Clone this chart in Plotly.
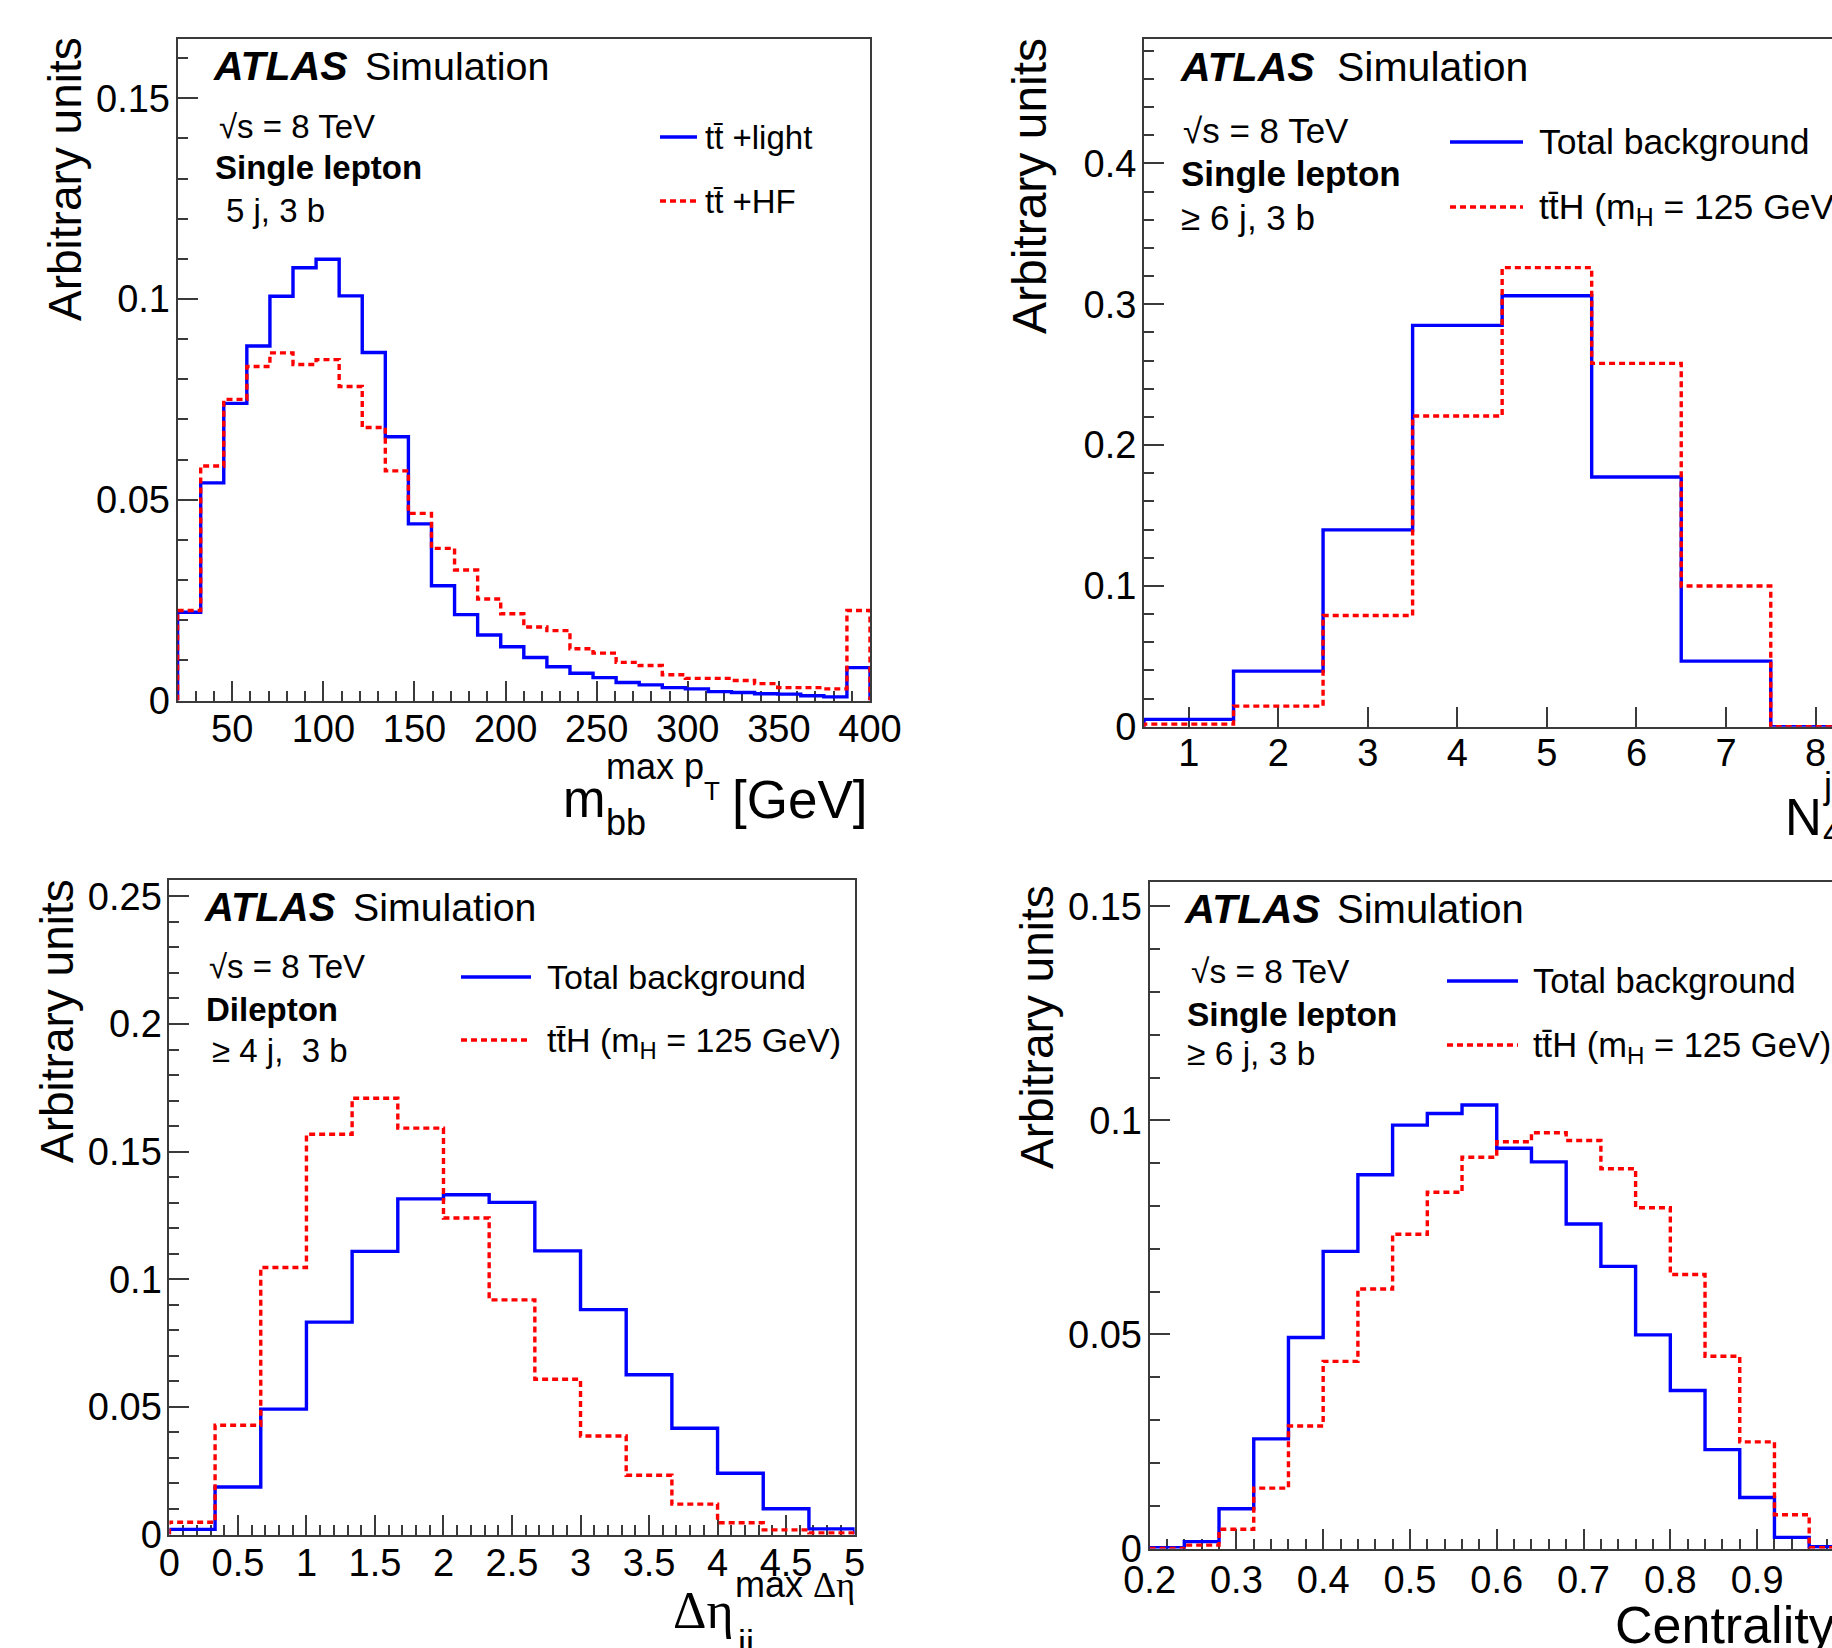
import numpy as np
import plotly.graph_objects as go

W, H = 1832, 1648
BLUE = "#0000ff"
RED = "#ff0000"
FRAME = "#3a3a3a"
SANS = "Liberation Sans"
SERIF = "Liberation Serif"
RED_DASH = "6px,4px"
LW = 3.4

# ---------------- data ----------------
# Panel 1: m_bb^{max pT}, 30 bins 20-400 GeV
mbb_edges = np.linspace(20, 400, 31)
mbb_light = [0.0220, 0.0542, 0.0740, 0.0883, 0.1007, 0.1078, 0.1099, 0.1008, 0.0867, 0.0657,
             0.0440, 0.0286, 0.0214, 0.0163, 0.0134, 0.0107, 0.0084, 0.0068, 0.0057, 0.0045,
             0.0039, 0.0032, 0.0029, 0.0022, 0.0020, 0.0017, 0.0016, 0.0012, 0.0009, 0.0082]
mbb_hf = [0.0224, 0.0584, 0.0750, 0.0832, 0.0866, 0.0837, 0.0849, 0.0782, 0.0680, 0.0572,
          0.0466, 0.0379, 0.0325, 0.0253, 0.0216, 0.0183, 0.0174, 0.0129, 0.0118, 0.0095,
          0.0087, 0.0064, 0.0055, 0.0055, 0.0050, 0.0042, 0.0032, 0.0032, 0.0029, 0.0224]

# Panel 2: N_40^jet, integer bins 1..8
njet_edges = np.arange(0.5, 9.0, 1.0)
njet_bkg = [0.0053, 0.0395, 0.1398, 0.2850, 0.3060, 0.1774, 0.0466, 0.0]
njet_tth = [0.0019, 0.0147, 0.0790, 0.2207, 0.3260, 0.2580, 0.1000, 0.0]

# Panel 3: Delta eta_jj^{max Delta eta}, 15 bins 0-5
deta_edges = np.linspace(0, 5, 16)
deta_bkg = [0.0020, 0.0186, 0.0491, 0.0832, 0.1109, 0.1315, 0.1331, 0.1301, 0.1111, 0.0881,
            0.0626, 0.0416, 0.0240, 0.0101, 0.0022]
deta_tth = [0.0048, 0.0428, 0.1046, 0.1568, 0.1709, 0.1592, 0.1240, 0.0919, 0.0608, 0.0386,
            0.0232, 0.0119, 0.0046, 0.0018, 0.0006]

# Panel 4: Centrality, 20 bins 0.2-1.0
cent_edges = np.linspace(0.2, 1.0, 21)
cent_bkg = [0.0002, 0.0016, 0.0093, 0.0256, 0.0493, 0.0694, 0.0873, 0.0989, 0.1016, 0.1036,
            0.0935, 0.0903, 0.0758, 0.0659, 0.0499, 0.0369, 0.0231, 0.0119, 0.0026, 0.0004]
cent_tth = [0.0000, 0.0008, 0.0045, 0.0141, 0.0286, 0.0437, 0.0606, 0.0734, 0.0832, 0.0914,
            0.0950, 0.0971, 0.0953, 0.0887, 0.0796, 0.0640, 0.0449, 0.0249, 0.0079, 0.0002]


def px(x):
    return x / W


def py(y):
    return 1 - y / H


def step_xy(edges, vals):
    e = list(edges)
    x = [e[0]] + e + [e[-1]]
    y = [0] + list(vals) + [vals[-1], 0]
    return x, y


fig = go.Figure()

panels = [
    # suffix, edges, A, B, x domain (px), y domain (top, bottom px), xrange, yrange, x-label standoff
    ("", mbb_edges, mbb_light, mbb_hf, (177.6, 870.0), (38.5, 700.5), [20, 400], [0, 0.1649], -6),
    ("2", njet_edges, njet_bkg, njet_tth, (1144.0, W), (38.5, 726.8), [0.5, 8.184], [0, 0.4887], -8),
    ("3", deta_edges, deta_bkg, deta_tth, (169.4, 854.6), (879.5, 1534.5), [0, 5], [0, 0.2566], -6),
    ("4", cent_edges, cent_bkg, cent_tth, (1149.6, W), (881.5, 1548.5), [0.2, 0.9863], [0, 0.1558], -3),
]

xticks = {"": (50, 10), "2": (1, None), "3": (0.5, 0.1), "4": (0.1, 0.02)}
yticks = {"": (0.05, 0.01), "2": (0.1, 0.02), "3": (0.05, 0.01), "4": (0.05, 0.01)}
full_frame = {"": True, "2": False, "3": True, "4": False}

layout_axes = {}
for suf, edges, a, b, xd, yd, xr, yr, xso in panels:
    xa = "x" + suf
    ya = "y" + suf
    x1, y1 = step_xy(edges, a)
    x2, y2 = step_xy(edges, b)
    fig.add_trace(go.Scatter(x=x1, y=y1, mode="lines", line=dict(color=BLUE, width=LW, shape="hv"),
                             xaxis=xa, yaxis=ya, showlegend=False, hoverinfo="skip", cliponaxis=False))
    fig.add_trace(go.Scatter(x=x2, y=y2, mode="lines",
                             line=dict(color=RED, width=LW, shape="hv", dash=RED_DASH),
                             xaxis=xa, yaxis=ya, showlegend=False, hoverinfo="skip", cliponaxis=False))
    xdt, xminor = xticks[suf]
    ydt, yminor = yticks[suf]
    xaxis = dict(domain=[px(xd[0]), px(xd[1])], range=xr, showgrid=False, zeroline=False,
                 showline=True, linecolor=FRAME, linewidth=2, mirror=True,
                 ticks="inside", ticklen=20, tickwidth=1.5, tickcolor=FRAME,
                 tick0=0, dtick=xdt, tickfont=dict(family=SANS, size=38, color="black"),
                 anchor=ya, layer="below traces", ticklabelstandoff=xso, automargin=False)
    if xminor:
        xaxis["minor"] = dict(dtick=xminor, tick0=0, ticks="inside", ticklen=10, tickwidth=1.5,
                              tickcolor=FRAME, showgrid=False)
    yaxis = dict(domain=[py(yd[1]), py(yd[0])], range=yr, showgrid=False, zeroline=False,
                 showline=True, linecolor=FRAME, linewidth=2, mirror=full_frame[suf],
                 ticks="inside", ticklen=20, tickwidth=1.5, tickcolor=FRAME,
                 tick0=0, dtick=ydt, tickfont=dict(family=SANS, size=38, color="black"),
                 anchor=xa, layer="below traces", ticklabelstandoff=-2, automargin=False)
    yaxis["minor"] = dict(dtick=yminor, tick0=0, ticks="inside", ticklen=10, tickwidth=1.5,
                          tickcolor=FRAME, showgrid=False)
    layout_axes["xaxis" + suf] = xaxis
    layout_axes["yaxis" + suf] = yaxis

annotations = []
shapes = []


def txt(x, y, text, size, xanchor="left", yanchor="middle", angle=0, family=SANS):
    annotations.append(dict(x=px(x), y=py(y), xref="paper", yref="paper", text=text,
                            showarrow=False, xanchor=xanchor, yanchor=yanchor, textangle=angle,
                            font=dict(family=family, size=size, color="black")))


def legend_line(x0, x1, y, color, dash=None):
    shapes.append(dict(type="line", xref="paper", yref="paper", x0=px(x0), x1=px(x1),
                       y0=py(y), y1=py(y),
                       line=dict(color=color, width=LW, dash=dash if dash else "solid")))


TT = "tt\u0304"

# ---- Panel 1 ----
txt(211, 66, "<b><i>ATLAS</i></b>", 41)
txt(363, 66, "Simulation", 39.5)
txt(217, 127, "\u221as = 8 TeV", 33)
txt(213, 168, "<b>Single lepton</b>", 33)
txt(224, 211, "5 j, 3 b", 33)
legend_line(660, 697, 137, BLUE)
legend_line(660, 697, 201, RED, RED_DASH)
txt(703, 137, TT + " +light", 33)
txt(703, 201, TT + " +HF", 33)
txt(65, 179, "Arbitrary units", 46, xanchor="center", angle=-90)
txt(561, 799, "m", 51)
txt(604, 822, "bb", 36)
txt(604, 766, "max p", 36)
txt(702, 791, "T", 26)
txt(870, 799, "[GeV]", 53, xanchor="right")

# ---- Panel 2 ----
txt(1178, 67, "<b><i>ATLAS</i></b>", 41)
txt(1335, 67, "Simulation", 41)
txt(1181, 130, "\u221as = 8 TeV", 35)
txt(1179, 173, "<b>Single lepton</b>", 35)
txt(1179, 217, "\u2265 6 j, 3 b", 35)
legend_line(1450, 1523, 142, BLUE)
legend_line(1450, 1523, 207, RED, RED_DASH)
txt(1537, 142, "Total background", 35.5)
txt(1537, 209, TT + "H (m<sub>H</sub> = 125 GeV)", 35.5)
txt(1029, 186, "Arbitrary units", 48, xanchor="center", angle=-90)
txt(1783, 817, "N", 51)
txt(1821, 786, "jet", 36)
txt(1821, 832, "40", 36)

# ---- Panel 3 ----
txt(202, 907, "<b><i>ATLAS</i></b>", 40)
txt(351, 907, "Simulation", 39.3)
txt(207, 966, "\u221as = 8 TeV", 33)
txt(204, 1009, "<b>Dilepton</b>", 33)
txt(210, 1050, "\u2265 4 j,\u00a0 3 b", 33)
legend_line(461, 531, 977, BLUE)
legend_line(461, 531, 1040, RED, RED_DASH)
txt(545, 977, "Total background", 34)
txt(545, 1042, TT + "H (m<sub>H</sub> = 125 GeV)", 34)
txt(57, 1021, "Arbitrary units", 46, xanchor="center", angle=-90)
txt(671, 1610, "\u0394\u03b7", 52, family=SERIF)
txt(735, 1643, "jj", 36)
txt(733, 1584, "max <span style=\"font-family:'Liberation Serif'\">\u0394\u03b7</span>", 36)

# ---- Panel 4 ----
txt(1182, 909, "<b><i>ATLAS</i></b>", 41.5)
txt(1335, 909, "Simulation", 40)
txt(1189, 971, "\u221as = 8 TeV", 33.5)
txt(1185, 1014, "<b>Single lepton</b>", 33.5)
txt(1185, 1053, "\u2265 6 j, 3 b", 33.5)
legend_line(1447, 1518, 981, BLUE)
legend_line(1447, 1518, 1045, RED, RED_DASH)
txt(1531, 981, "Total background", 34.5)
txt(1531, 1047, TT + "H (m<sub>H</sub> = 125 GeV)", 34.5)
txt(1037, 1027, "Arbitrary units", 46, xanchor="center", angle=-90)
txt(1613, 1625, "Centrality", 52)

fig.update_layout(
    width=W, height=H,
    margin=dict(l=0, r=0, t=0, b=0, pad=0, autoexpand=False),
    paper_bgcolor="white", plot_bgcolor="white",
    showlegend=False,
    annotations=annotations, shapes=shapes,
    font=dict(family=SANS, color="black"),
    **layout_axes,
)

fig.write_html("out.html", config={"displayModeBar": False},
               post_script="document.body.style.margin='0';document.body.style.overflow='hidden';")
